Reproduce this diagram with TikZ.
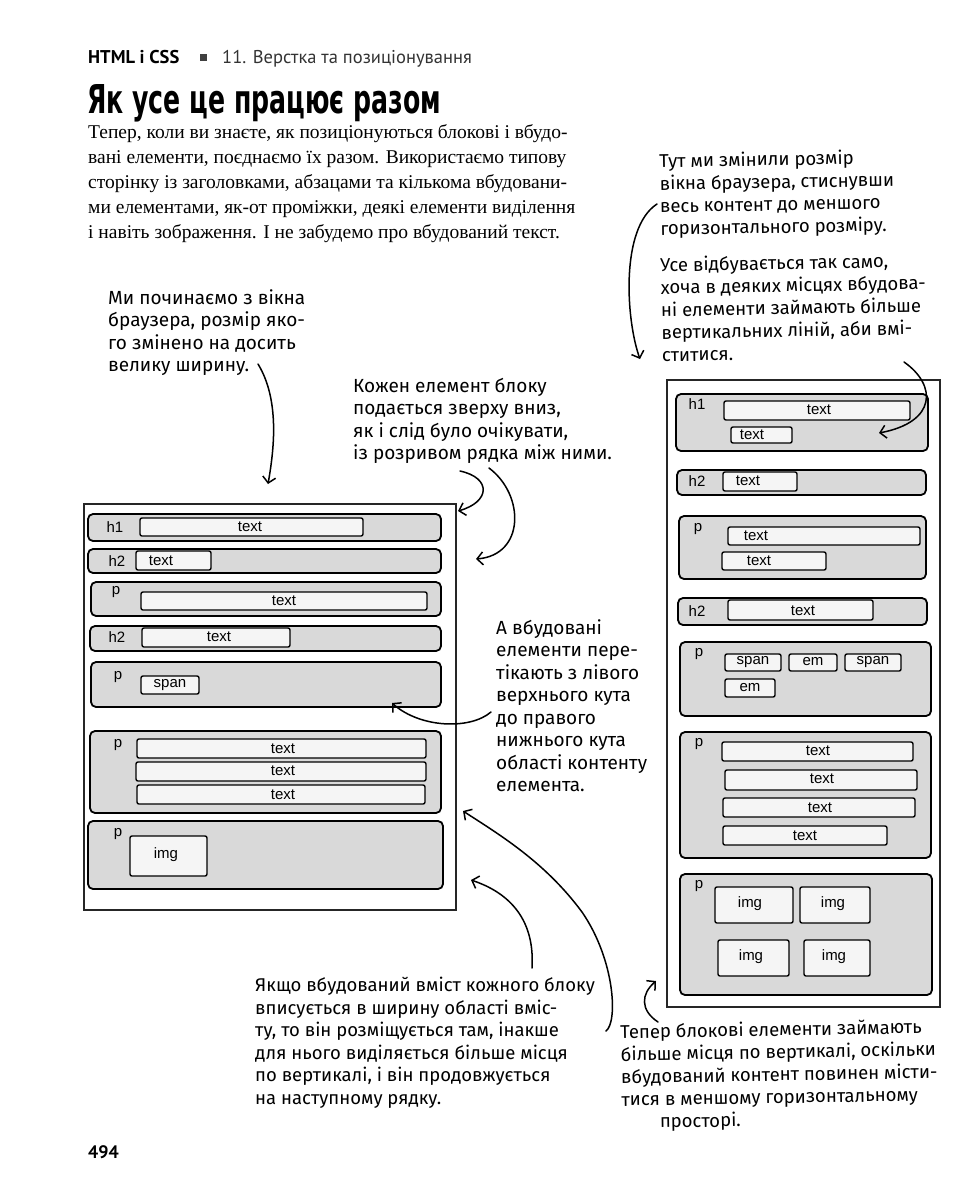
\documentclass[tikz,border=0pt]{standalone}
\usepackage{fontspec}
\usepackage{graphicx}
\setmainfont{Liberation Serif}
\newfontfamily\handf{Fira Sans}
\newfontfamily\arialf{Liberation Sans}
\newfontfamily\hdrf{PT Sans}
\newfontfamily\ttlf{DejaVu Sans}
\usetikzlibrary{arrows.meta,fit}
\newcommand\mybox[5]{\node[blk, fit={(#2,#3) (#4,#5)}] (#1) {};}
\newcommand\myin[8]{\node[ibx, fit={(#2,#3) (#4,#5)}] (#1) {};\node[lbl] (#1-t) at (#6,#7) {#8};}
\begin{document}
\begin{tikzpicture}[x=1pt,y=-1pt,
  win/.style={draw=black!85, line width=1.3pt, inner sep=0pt},
  blk/.style={draw, fill=black!15, line width=1.8pt, rounded corners=5pt, inner sep=0pt},
  ibx/.style={draw, fill=black!4, line width=1.4pt, rounded corners=2pt, inner sep=0pt},
  lbl/.style={font=\arialf\fontsize{15}{15}\selectfont, inner sep=0pt},
  note/.style={font=\handf\fontsize{18.5}{22.5}\selectfont, align=left, anchor=north west, inner sep=0pt},
  arr/.style={line width=1.5pt, line cap=round, -{Straight Barb[length=6pt,width=13pt]}}]
\useasboundingbox (0,0) rectangle (960,1200);
\fill[white] (0,0) rectangle (960,1200);

% header
\node[anchor=base west, inner sep=0, font=\hdrf\bfseries\fontsize{18.5}{18.5}\selectfont] (hd1) at (88,63) {HTML і CSS};
\node[fill=black!75, minimum size=7pt, inner sep=0] (hsq) at (203,57) {};
\node[anchor=base west, inner sep=0, text=black!80, font=\hdrf\fontsize{18.5}{18.5}\selectfont] (hd2) at (222,63) {11. Верстка та позиціонування};
\node[anchor=base west, inner sep=0] (ttl) at (87,113) {\resizebox{354pt}{29pt}{\ttlf\bfseries Як усе це працює разом}};
\node[anchor=north west, inner sep=0, align=left, font=\fontsize{19.5}{25}\selectfont] (body) at (88,124) {Тепер, коли ви знаєте, як позиціонуються блокові і вбудо-\\вані елементи, поєднаємо їх разом. Використаємо типову\\сторінку із заголовками, абзацами та кількома вбудовани-\\ми елементами, як-от проміжки, деякі елементи виділення\\і навіть зображення. І не забудемо про вбудований текст.};

% left window
\node[win, fit={(84,504) (456,910)}] (lwin) {};
\mybox{lh1}{88}{514}{441}{541}
\node[lbl] (lh1-l) at (115,527) {h1};
\myin{lh1a}{140}{518}{363}{536}{250}{527}{text}
\mybox{lh2}{88}{549}{441}{573}
\node[lbl] (lh2-l) at (117,561) {h2};
\myin{lh2a}{136}{551}{211}{570}{161}{561}{text}
\mybox{lp1}{91}{582}{441}{616}
\node[lbl] (lp1-l) at (116,592) {p};
\myin{lp1a}{141}{592}{427}{610}{284}{601}{text}
\mybox{lh3}{90}{626}{441}{651}
\node[lbl] (lh3-l) at (117,637) {h2};
\myin{lh3a}{142}{628}{290}{647}{219}{637}{text}
\mybox{lp2}{91}{662}{441}{707}
\node[lbl] (lp2-l) at (118,677) {p};
\myin{lp2a}{141}{676}{199}{694}{170}{685}{span}
\mybox{lp3}{90}{731}{441}{813}
\node[lbl] (lp3-l) at (118,745) {p};
\myin{lp3a}{137}{739}{426}{758}{283}{749}{text}
\myin{lp3b}{136}{762}{426}{781}{283}{771}{text}
\myin{lp3c}{137}{785}{425}{804}{283}{795}{text}
\mybox{lp4}{88}{821}{443}{889}
\node[lbl] (lp4-l) at (118,834) {p};
\myin{lp4a}{130}{836}{207}{876}{166}{855}{img}

% right window
\node[win, fit={(667,380) (940,1007)}] (rwin) {};
\mybox{rh1}{676}{394}{928}{451}
\node[lbl] (rh1-l) at (697,404) {h1};
\myin{rh1a}{724}{401}{910}{420}{819}{410}{text}
\myin{rh1b}{731}{427}{792}{443}{752}{435}{text}
\mybox{rh2}{677}{470}{926}{495}
\node[lbl] (rh2-l) at (697,481) {h2};
\myin{rh2a}{723}{472}{797}{491}{748}{481}{text}
\mybox{rp1}{679}{516}{926}{579}
\node[lbl] (rp1-l) at (698,529) {p};
\myin{rp1a}{728}{527}{920}{545}{756}{536}{text}
\myin{rp1b}{722}{552}{826}{570}{759}{561}{text}
\mybox{rh3}{678}{598}{927}{625}
\node[lbl] (rh3-l) at (697,611) {h2};
\myin{rh3a}{728}{600}{873}{620}{803}{611}{text}
\mybox{rp2}{680}{642}{931}{716}
\node[lbl] (rp2-l) at (699,654) {p};
\myin{rp2a}{725}{654}{781}{671}{753}{662}{span}
\myin{rp2b}{789}{654}{837}{671}{813}{662}{em}
\myin{rp2c}{845}{654}{901}{671}{873}{662}{span}
\myin{rp2d}{725}{679}{775}{697}{750}{688}{em}
\mybox{rp3}{680}{732}{931}{858}
\node[lbl] (rp3-l) at (699,744) {p};
\myin{rp3a}{722}{742}{913}{761}{818}{751}{text}
\myin{rp3b}{725}{770}{917}{790}{822}{779}{text}
\myin{rp3c}{723}{798}{915}{817}{820}{808}{text}
\myin{rp3d}{723}{826}{887}{845}{805}{836}{text}
\mybox{rp4}{680}{874}{932}{995}
\node[lbl] (rp4-l) at (699,886) {p};
\myin{rp4a}{715}{887}{793}{923}{750}{904}{img}
\myin{rp4b}{800}{887}{870}{923}{833}{904}{img}
\myin{rp4c}{718}{940}{789}{976}{751}{957}{img}
\myin{rp4d}{804}{940}{870}{976}{834}{957}{img}

% notes
\node[note, font=\handf\fontsize{19}{22.5}\selectfont] (n1) at (108,289) {Ми починаємо з вікна\\браузера, розмір яко-\\го змінено на досить\\велику ширину.};
\node[note, font=\handf\fontsize{19}{22.5}\selectfont] (n2) at (353,378) {Кожен елемент блоку\\подається зверху вниз,\\як і слід було очікувати,\\із розривом рядка між ними.};
\node[note, font=\handf\fontsize{19}{22.5}\selectfont] (n3) at (496,619) {А вбудовані\\елементи пере-\\тікають з лівого\\верхнього кута\\до правого\\нижнього кута\\області контенту\\елемента.};
\node[note] (n4) at (255,977) {Якщо вбудований вміст кожного блоку\\вписується в ширину області вміс-\\ту, то він розміщується там, інакше\\для нього виділяється більше місця\\по вертикалі, і він продовжується\\на наступному рядку.};
\node[note, rotate=1] (n5) at (659,153) {Тут ми змінили розмір\\вікна браузера, стиснувши\\весь контент до меншого\\горизонтального розміру.};
\node[note, rotate=1] (n6) at (660,257) {Усе відбувається так само,\\хоча в деяких місцях вбудова-\\ні елементи займають більше\\вертикальних ліній, аби вмі-\\ститися.};
\node[note, rotate=1] (n7) at (620,1024) {Тепер блокові елементи займають\\більше місця по вертикалі, оскільки\\вбудований контент повинен місти-\\тися в меншому горизонтальному\\\hspace*{38pt}просторі.};
\node[anchor=base west, inner sep=0, font=\hdrf\bfseries\fontsize{18}{18}\selectfont] (pg) at (88,1158) {494};

% arrows
\coordinate (a1s) at (258,364); \coordinate (a1e) at (268,484);
\draw[arr] (a1s) .. controls (280,400) and (274,450) .. (a1e);
\coordinate (a2s) at (460,471); \coordinate (a2e) at (458,511);
\draw[arr] (a2s) .. controls (492,478) and (490,502) .. (a2e);
\coordinate (a3s) at (489,468); \coordinate (a3e) at (476,559);
\draw[arr] (a3s) .. controls (525,495) and (525,555) .. (a3e);
\coordinate (a4s) at (491,712); \coordinate (a4e) at (392,703);
\draw[arr] (a4s) .. controls (470,730) and (420,728) .. (a4e);
\coordinate (a5s) at (532,968); \coordinate (a5e) at (471,880);
\draw[arr] (a5s) .. controls (535,920) and (510,893) .. (a5e);
\coordinate (a6s) at (606,1031); \coordinate (a6m) at (582,912); \coordinate (a6e) at (463,811);
\draw[arr] (a6s) .. controls (618,1022) and (615,960) .. (a6m) .. controls (545,862) and (500,835) .. (a6e);
\coordinate (a7s) at (657,204); \coordinate (a7e) at (640,359);
\draw[arr] (a7s) .. controls (620,228) and (626,320) .. (a7e);
\coordinate (a8s) at (904,362); \coordinate (a8e) at (879,433);
\draw[arr] (a8s) .. controls (937,385) and (937,422) .. (a8e);
\coordinate (a9s) at (658,1022); \coordinate (a9e) at (656,981);
\draw[arr] (a9s) .. controls (640,1010) and (641,994) .. (a9e);
\end{tikzpicture}
\end{document}
